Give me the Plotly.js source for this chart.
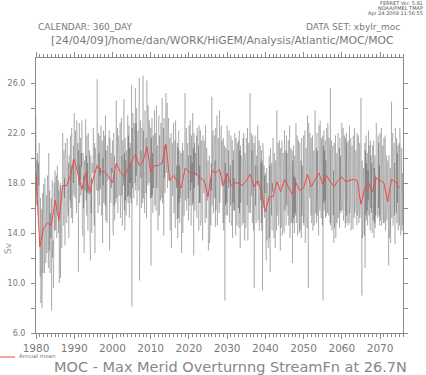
<!DOCTYPE html>
<html><head><meta charset="utf-8">
<script src="https://cdn.plot.ly/plotly-3.0.1.min.js"></script>
<style>html,body{margin:0;padding:0;background:#fff;}#chart{width:426px;height:375px;}</style>
</head><body><div id="chart"></div>
<script>
// Monthly MOC (Sv), one row per year, Jan..Dec, 1980..2075 (360_DAY calendar)
const startYear = 1980;
const monthlyMoc = [
23.3,21.0,16.2,19.8,17.0,20.4,18.2,15.4,19.6,17.8,21.2,16.0,
14.5,10.5,16.8,8.4,13.2,11.0,15.9,8.0,12.6,17.2,10.8,15.9,
17.9,12.2,15.5,10.8,18.4,13.0,16.2,11.6,14.8,17.0,12.4,13.0,
18.6,13.4,16.0,11.2,20.4,14.2,12.6,17.4,10.8,15.6,13.8,13.6,
16.8,7.8,15.4,18.2,12.0,17.6,13.4,9.6,16.4,18.0,14.2,15.8,
19.0,14.2,17.8,15.0,18.6,13.6,17.2,19.4,15.8,16.4,18.2,14.0,
17.4,10.0,16.6,13.2,18.0,10.4,17.8,14.6,16.2,12.8,17.0,16.0,
22.0,15.4,19.2,14.6,20.6,16.8,18.4,13.0,21.2,17.6,19.8,15.0,
20.4,14.8,21.6,16.2,18.8,15.4,19.6,13.6,20.2,17.4,19.0,16.6,
21.8,16.0,19.4,15.2,22.4,17.6,20.2,14.8,19.8,18.0,21.0,17.0,
23.6,17.2,21.4,16.8,22.2,18.4,20.8,15.6,23.0,19.2,21.6,19.0,
21.2,10.9,20.6,17.8,22.8,16.4,19.4,18.2,21.6,17.0,20.4,19.3,
23.0,14.6,19.2,13.8,20.4,16.0,18.6,12.4,19.8,16.8,17.4,18.0,
23.1,16.6,20.2,15.4,21.8,17.2,19.6,14.2,22.0,18.4,20.0,17.1,
20.6,13.4,19.0,11.8,20.2,15.6,18.4,14.0,19.6,16.2,18.8,18.8,
22.4,15.8,20.0,14.6,21.2,12.4,20.8,17.0,19.6,18.2,21.4,17.4,
26.3,16.8,21.0,15.6,22.0,17.4,20.4,16.2,21.8,18.6,19.2,17.5,
22.6,15.4,20.8,16.6,21.4,13.2,20.0,17.8,22.2,16.4,19.6,20.8,
21.8,16.2,23.4,15.0,20.6,17.8,19.2,14.8,21.0,18.2,20.4,18.4,
20.8,15.6,22.2,12.6,21.6,17.0,19.8,16.4,20.4,17.6,19.2,18.8,
21.4,14.4,19.6,13.8,22.0,16.2,20.2,15.0,19.0,17.4,20.6,16.4,
24.6,16.8,21.2,17.4,22.4,15.6,21.8,18.2,20.6,17.0,22.0,17.6,
22.8,15.2,21.0,16.4,23.2,17.0,20.2,14.6,21.4,17.8,19.4,17.8,
24.7,15.8,20.4,14.2,21.6,16.6,19.8,15.4,20.6,17.2,18.8,16.9,
23.4,16.4,21.8,17.0,22.6,15.2,20.8,18.0,21.2,16.8,19.6,16.4,
25.8,8.1,22.4,17.6,23.6,18.2,21.4,16.8,22.8,19.0,21.6,18.0,
25.6,17.4,22.8,18.6,24.0,16.2,21.6,19.4,22.2,17.8,20.6,17.4,
26.4,10.2,21.8,17.6,23.0,18.4,20.6,16.0,22.4,18.8,21.2,16.4,
26.6,16.8,22.2,17.4,21.0,15.6,23.8,18.6,20.4,17.2,21.6,15.2,
26.2,18.6,23.4,17.8,24.2,19.2,22.6,18.0,23.0,19.6,21.4,16.8,
22.4,11.4,21.6,16.8,23.2,17.0,20.4,15.6,21.8,17.6,19.8,19.2,
23.8,16.2,22.0,17.4,21.4,15.8,24.2,17.6,20.8,18.4,21.0,14.2,
22.6,17.0,23.4,15.4,21.8,18.2,20.6,16.6,22.8,17.4,20.2,16.8,
24.8,16.4,21.6,17.8,22.4,13.8,23.2,18.4,21.0,17.2,20.8,17.6,
25.2,18.8,23.6,19.4,24.4,17.6,22.8,19.8,23.2,18.2,21.6,18.6,
21.6,14.2,20.4,15.8,22.0,12.8,19.6,16.4,21.2,17.0,19.8,17.6,
22.8,15.6,20.2,16.8,21.4,14.4,23.0,16.2,20.6,17.6,19.4,15.1,
21.2,13.6,20.8,15.2,22.2,16.4,19.4,14.8,20.6,16.8,19.2,17.0,
20.4,12.4,19.8,15.6,21.2,14.0,20.6,16.2,19.0,15.4,18.8,17.8,
25.2,16.6,21.8,17.2,22.4,15.8,20.6,17.6,21.2,16.8,20.2,15.0,
22.6,15.8,21.4,16.2,23.0,17.4,20.2,14.6,21.8,18.0,19.6,16.2,
23.6,16.4,20.8,12.2,22.0,17.6,21.2,15.8,20.4,17.2,19.8,18.6,
21.8,15.2,22.4,16.6,20.6,17.8,21.0,14.2,22.6,16.4,19.4,16.4,
22.2,14.6,20.6,15.8,21.4,16.8,19.8,13.4,21.8,17.2,20.0,17.2,
21.4,15.4,20.2,14.8,22.6,16.0,19.4,15.2,20.8,16.6,19.0,16.9,
19.8,12.6,18.6,14.4,20.2,13.2,19.0,15.0,18.4,14.6,19.6,17.4,
24.9,16.2,21.4,16.8,22.2,15.6,20.6,17.4,21.8,16.8,19.8,14.5,
22.4,15.8,21.0,17.2,23.4,14.6,20.4,16.6,21.6,17.4,19.6,15.6,
23.8,16.4,22.2,17.8,21.8,18.2,22.6,17.8,21.4,18.6,20.4,14.8,
21.6,14.2,20.4,15.6,21.0,8.6,19.6,16.2,20.8,15.4,18.6,16.4,
22.6,15.4,21.8,16.8,20.6,17.6,22.2,14.8,21.2,17.0,19.4,16.2,
21.8,14.6,20.2,15.2,21.4,13.6,19.8,16.4,20.6,15.8,18.4,15.8,
22.0,15.0,20.8,13.8,21.6,16.2,19.4,14.6,21.2,16.8,18.6,16.0,
21.4,14.4,22.2,15.6,20.6,12.8,21.0,16.4,20.2,17.2,19.6,14.6,
20.8,15.2,21.6,14.8,22.0,15.6,19.6,13.4,20.4,16.6,19.2,14.4,
21.6,14.8,20.4,16.2,22.4,13.4,20.8,16.0,21.2,15.6,19.8,16.2,
25.2,15.6,21.2,16.4,22.0,17.0,20.6,14.8,21.8,16.2,19.4,14.2,
21.2,9.6,20.6,15.4,21.8,16.2,19.4,14.8,20.2,16.6,18.8,17.8,
22.6,15.0,20.8,16.4,21.4,14.2,20.2,15.8,21.0,16.6,19.6,14.8,
20.6,14.2,19.8,9.4,21.2,15.6,20.4,16.0,19.4,15.2,18.6,17.2,
18.8,12.6,17.4,11.8,19.2,13.4,18.0,14.2,17.6,12.8,16.6,16.0,
20.2,13.6,19.4,10.9,20.8,14.8,18.6,15.4,19.6,14.2,18.0,17.3,
21.6,14.2,18.8,13.6,20.4,15.0,19.2,12.8,19.8,15.6,17.6,14.2,
23.8,15.4,20.6,16.2,21.2,14.6,20.0,15.8,21.4,16.4,19.2,12.6,
20.8,14.4,19.6,15.0,21.4,13.8,19.2,14.6,20.4,15.6,18.8,14.0,
22.2,15.8,21.0,16.4,20.6,14.6,21.8,16.2,20.4,15.4,19.8,15.4,
21.4,14.6,20.2,15.2,22.6,13.6,19.4,15.8,20.8,14.8,18.6,15.4,
20.6,11.6,19.8,14.8,21.0,15.2,18.6,14.0,20.2,15.6,18.4,15.4,
22.8,14.8,20.6,16.2,21.8,13.8,20.2,15.6,21.4,15.2,19.6,14.0,
21.2,14.2,20.4,15.0,19.8,13.6,21.6,15.4,19.4,14.8,18.6,14.8,
21.8,14.6,19.6,15.8,22.2,13.2,20.4,14.4,20.8,15.6,18.4,14.4,
23.4,16.2,21.6,9.6,22.8,17.4,21.2,16.8,22.0,17.6,20.4,15.4,
21.6,14.8,20.2,15.4,21.8,14.2,19.6,15.6,20.6,14.6,19.0,15.0,
23.8,15.6,21.2,16.0,20.8,14.8,22.0,15.4,20.6,16.2,19.4,13.8,
22.6,16.4,21.8,15.8,23.0,17.2,20.4,15.2,21.6,16.8,20.2,14.6,
21.8,8.6,21.0,16.4,22.2,15.8,20.6,16.6,21.4,15.2,19.8,15.4,
22.4,16.0,21.4,15.6,22.8,16.6,20.2,15.4,21.6,16.4,20.0,14.8,
25.6,14.6,20.8,15.8,21.4,14.2,20.2,16.0,21.0,15.4,19.0,13.2,
21.2,14.4,20.6,15.2,21.8,13.6,19.8,15.6,20.4,14.8,18.6,16.4,
22.0,15.2,21.4,16.0,20.8,14.4,21.6,15.8,20.2,15.6,19.4,16.0,
22.8,15.8,21.2,16.6,22.4,15.0,20.6,16.2,21.8,15.4,19.8,14.4,
21.6,14.8,22.0,15.4,21.2,16.0,20.4,14.6,21.4,15.8,19.2,14.8,
22.6,15.6,20.8,16.2,21.6,14.2,20.2,15.8,21.0,16.4,19.6,14.3,
21.8,16.0,21.4,15.2,22.4,15.6,20.8,16.4,20.6,15.0,19.8,14.6,
22.0,15.4,21.0,16.0,21.8,14.8,20.4,15.6,21.2,15.2,19.4,16.8,
24.8,13.2,18.6,9.0,19.8,13.6,18.4,14.2,19.2,13.8,17.2,13.8,
21.2,11.2,20.6,15.4,21.8,15.0,19.6,15.8,20.4,14.6,19.0,16.6,
22.2,15.4,21.0,15.8,20.6,14.2,21.4,16.0,20.2,15.6,19.6,14.0,
21.0,14.2,19.8,15.0,21.4,13.6,19.2,14.8,20.2,14.4,18.6,15.4,
22.8,15.6,21.6,16.4,20.8,15.2,21.8,16.0,21.2,15.4,19.4,14.6,
22.0,15.0,21.2,16.2,22.4,14.6,20.6,15.8,21.0,15.2,19.6,14.8,
21.6,14.8,20.4,15.6,21.8,14.2,20.8,16.2,20.2,15.0,19.2,16.2,
19.8,12.8,18.6,11.4,20.2,13.6,18.4,14.4,19.2,13.2,17.6,18.8,
24.5,15.2,21.4,16.0,22.0,14.6,20.8,15.8,21.2,15.4,19.6,13.1,
22.4,15.0,20.8,15.6,21.6,14.8,20.4,16.4,21.0,14.2,19.6,15.4,
21.2,14.6,22.4,15.0,20.6,13.8,19.8,15.4,20.8,14.2,18.8,14.6
];
// Annual mean (Sv), 1980..2075
const annualYears = [];
for (let y = 1980; y <= 2075; y++) annualYears.push(y);
const annualMean = [
18.8,12.9,14.4,14.8,14.6,16.6,15.0,17.8,17.8,18.6,
19.9,18.8,17.5,18.8,17.2,18.4,19.4,18.9,18.9,18.5,
18.0,19.6,18.9,18.5,19.1,19.6,20.3,19.4,19.7,20.9,
18.9,19.4,19.4,19.6,21.1,18.2,18.6,18.1,17.6,19.2,
18.9,18.8,18.7,18.4,18.2,16.9,19.0,18.8,19.1,17.8,
18.8,17.8,18.0,18.0,17.8,18.2,18.7,17.7,18.2,17.3,
15.7,16.9,16.9,18.1,17.3,18.3,17.7,17.1,18.0,17.4,
17.6,18.7,17.7,18.3,18.8,17.9,18.6,18.1,17.7,18.2,
18.5,18.1,18.2,18.3,18.2,16.3,17.6,18.0,17.3,18.4,
18.2,18.0,16.5,18.3,18.1,17.6
];
const xTickVals = [1980,1990,2000,2010,2020,2030,2040,2050,2060,2070];
const yTickVals = [6,8,10,12,14,16,18,20,22,24,26];
const yTickText = ["6.0","","10.0","","14.0","","18.0","","22.0","","26.0"];

const monthlyX = monthlyMoc.map((v, i) => startYear + i / 12);

// layout geometry (pixels)
const W = 426, H = 375, ML = 36, MR = 23, MT = 58, MB = 42;
const PW = W - ML - MR, PH = H - MT - MB;
const px = x => (x - ML) / PW;
const py = y => (H - MB - y) / PH;

const grey = '#7a7a7a';
const axisCommon = {
  showgrid: false, zeroline: false, showline: true, linecolor: '#8a8a8a', linewidth: 1,
  ticks: 'outside', tickcolor: '#8a8a8a', mirror: 'ticks'
};

const traces = [
  { x: monthlyX, y: monthlyMoc, type: 'scatter', mode: 'lines',
    line: { color: 'rgba(0,0,0,0.38)', width: 0.5 }, hoverinfo: 'skip', showlegend: false },
  { x: annualYears, y: annualMean, type: 'scatter', mode: 'lines',
    line: { color: '#f04848', width: 1 }, showlegend: false }
];

const layout = {
  width: W, height: H,
  margin: { l: ML, r: MR, t: MT, b: MB, pad: 0 },
  paper_bgcolor: '#fff', plot_bgcolor: '#fff',
  font: { family: 'DejaVu Sans, sans-serif', color: grey },
  xaxis: Object.assign({}, axisCommon, {
    range: [1980, 2076], tickvals: xTickVals, ticklen: 5, tickwidth: 1,
    tickfont: { size: 10.5, color: grey },
    minor: { dtick: 1, tick0: 1980, ticklen: 3, tickcolor: '#8a8a8a', ticks: 'outside' }
  }),
  yaxis: Object.assign({}, axisCommon, {
    range: [6, 28], tickvals: yTickVals, ticktext: yTickText, ticklen: 4,
    ticklabelstandoff: 4,
    tickfont: { size: 8, color: grey }
  }),
  shapes: [
    { type: 'line', xref: 'paper', yref: 'paper', x0: px(0), x1: px(15), y0: py(357), y1: py(357),
      line: { color: '#f04848', width: 1 } }
  ],
  annotations: [
    { text: 'FERRET Ver. 5.81', xref: 'paper', yref: 'paper', x: px(425), y: py(3), xanchor: 'right', yanchor: 'middle', showarrow: false, font: { size: 5, color: '#555' } },
    { text: 'NOAA/PMEL TMAP', xref: 'paper', yref: 'paper', x: px(425), y: py(8), xanchor: 'right', yanchor: 'middle', showarrow: false, font: { size: 5, color: '#555' } },
    { text: 'Apr 24 2009 11:56:55', xref: 'paper', yref: 'paper', x: px(425), y: py(13), xanchor: 'right', yanchor: 'middle', showarrow: false, font: { size: 5, color: '#555' } },
    { text: 'CALENDAR: 360_DAY', xref: 'paper', yref: 'paper', x: px(36), y: py(27), xanchor: 'left', yanchor: 'middle', showarrow: false, font: { size: 9, color: grey } },
    { text: 'DATA SET: xbylr_moc', xref: 'paper', yref: 'paper', x: px(402), y: py(27), xanchor: 'right', yanchor: 'middle', showarrow: false, font: { size: 9, color: grey } },
    { text: '[24/04/09]/home/dan/WORK/HiGEM/Analysis/Atlantic/MOC/MOC', xref: 'paper', yref: 'paper', x: px(49), y: py(40), xanchor: 'left', yanchor: 'middle', showarrow: false, font: { size: 10.8, color: grey } },
    { text: 'Sv', xref: 'paper', yref: 'paper', x: px(8), y: py(248), xanchor: 'center', yanchor: 'middle', textangle: -90, showarrow: false, font: { size: 9, color: '#999' } },
    { text: 'Annual mean', xref: 'paper', yref: 'paper', x: px(17), y: py(356), xanchor: 'left', yanchor: 'middle', showarrow: false, font: { size: 5.5, color: grey } },
    { text: 'MOC - Max Merid Overturnng StreamFn at 26.7N', xref: 'paper', yref: 'paper', x: px(52), y: py(367), xanchor: 'left', yanchor: 'middle', showarrow: false, font: { size: 14.5, color: '#888' } }
  ]
};

Plotly.newPlot('chart', traces, layout, { staticPlot: true, displayModeBar: false });
</script>
</body></html>
